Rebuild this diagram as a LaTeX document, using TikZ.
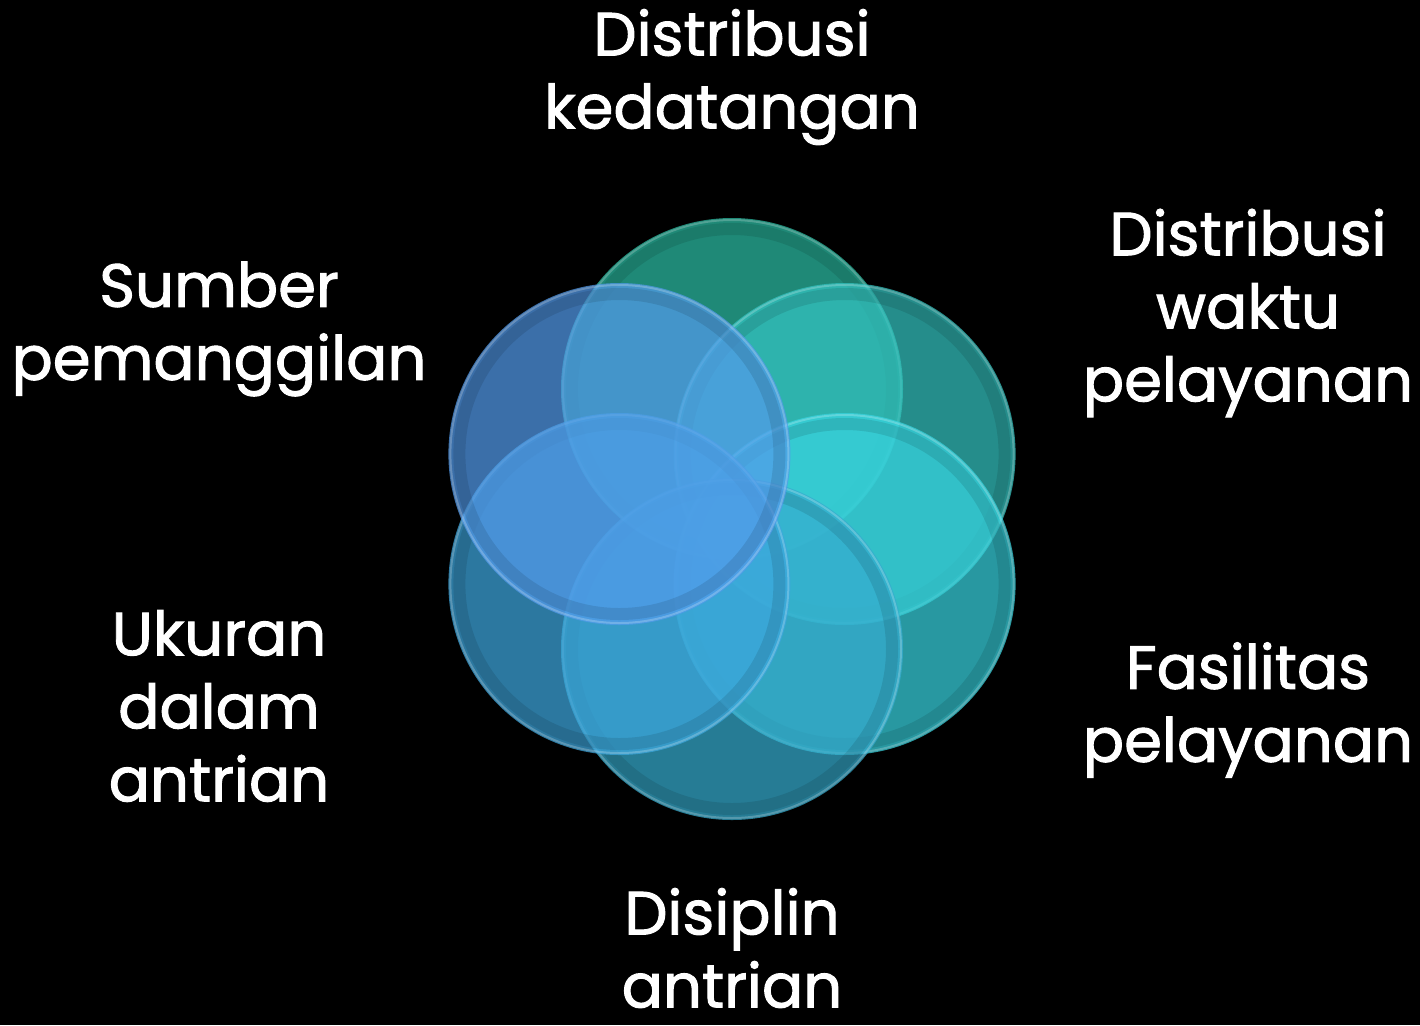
\documentclass[tikz,border=0pt]{standalone}
\usepackage{fontspec}
\setmainfont{Poppins}
\newfontfamily\lblfont{Poppins}[BoldFont={Poppins},BoldFeatures={FakeBold=1.6}]
\definecolor{cTop}{RGB}{44,190,165}
\definecolor{cUR}{RGB}{52,196,194}
\definecolor{cLR}{RGB}{56,212,224}
\definecolor{cBot}{RGB}{54,172,207}
\definecolor{cLL}{RGB}{61,167,222}
\definecolor{cUL}{RGB}{83,155,235}
\begin{document}
\begin{tikzpicture}[x=0.5pt,y=-0.5pt,
  lbl/.style={text=white,align=center,inner sep=0pt,font=\lblfont\bfseries\fontsize{30.5}{36.5}\selectfont},
  bub/.style={fill=#1,fill opacity=0.72}]
\fill[black] (0,0) rectangle (1420,1025);
\useasboundingbox (0,0) rectangle (1420,1025);
\foreach \cx/\cy/\col in {732/389/cTop, 844.6/454/cUR, 844.6/584/cLR, 732/649/cBot, 619.4/584/cLL, 619.4/454/cUL}{
  \fill[bub=\col] (\cx,\cy) circle[radius=171];
  \draw[black,opacity=0.10,line width=6pt] (\cx,\cy) circle[radius=160];
  \draw[white,opacity=0.22,line width=1pt] (\cx,\cy) circle[radius=169];
}
\node[lbl] (t1) at (732,77) {Distribusi\\kedatangan};
\node[lbl] (t2) at (1248,313) {Distribusi\\waktu\\pelayanan};
\node[lbl] (t3) at (1248,710) {Fasilitas\\pelayanan};
\node[lbl] (t4) at (732,948) {Disiplin\\antrian};
\node[lbl] (t5) at (219,706) {Ukuran\\dalam\\antrian};
\node[lbl] (t6) at (219,329) {Sumber\\pemanggilan};
\end{tikzpicture}
\end{document}
